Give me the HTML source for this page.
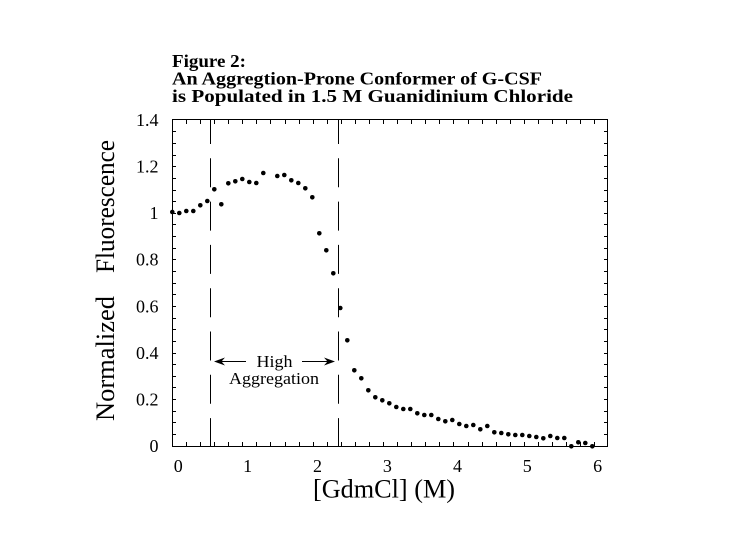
<!DOCTYPE html>
<html>
<head>
<meta charset="utf-8">
<style>
  html, body { margin: 0; padding: 0; background: #fff; }
  svg { display: block; }
  text { font-family: "Liberation Serif", "DejaVu Serif", serif; fill: #000; }
</style>
</head>
<body>
<svg width="730" height="552" viewBox="0 0 730 552" xmlns="http://www.w3.org/2000/svg">
  <rect x="0" y="0" width="730" height="552" fill="#fff"/>

  <text x="172" y="67" font-size="18" font-weight="bold" textLength="74" lengthAdjust="spacingAndGlyphs">Figure 2:</text>
  <text x="172" y="84.5" font-size="18" font-weight="bold" textLength="370" lengthAdjust="spacingAndGlyphs">An Aggregtion-Prone Conformer of G-CSF</text>
  <text x="172" y="102" font-size="18" font-weight="bold" textLength="401" lengthAdjust="spacingAndGlyphs">is Populated in 1.5 M Guanidinium Chloride</text>

  <rect x="172.5" y="119.5" width="435" height="327" fill="none" stroke="#000" stroke-width="1"/>

  <line x1="210.5" y1="120" x2="210.5" y2="446" stroke="#000" stroke-width="1" stroke-dasharray="29 14.3" stroke-dashoffset="5"/>
  <line x1="338.5" y1="120" x2="338.5" y2="446" stroke="#000" stroke-width="1" stroke-dasharray="29 14.3" stroke-dashoffset="5"/>

  <g font-size="18" text-anchor="end">
    <text x="158.5" y="126">1.4</text>
    <text x="158.5" y="172.6">1.2</text>
    <text x="158.5" y="219.1">1</text>
    <text x="158.5" y="265.7">0.8</text>
    <text x="158.5" y="312.3">0.6</text>
    <text x="158.5" y="358.9">0.4</text>
    <text x="158.5" y="405.4">0.2</text>
    <text x="158.5" y="452">0</text>
  </g>

  <g font-size="18" text-anchor="middle">
    <text x="178.3" y="472">0</text>
    <text x="247.6" y="472">1</text>
    <text x="317.5" y="472">2</text>
    <text x="387.4" y="472">3</text>
    <text x="457.5" y="472">4</text>
    <text x="527.2" y="472">5</text>
    <text x="597.6" y="472">6</text>
  </g>

  <text x="313" y="497.5" font-size="26" textLength="142" lengthAdjust="spacingAndGlyphs">[GdmCl] (M)</text>
  <text x="114" y="421" font-size="26" transform="rotate(-90 114 421)" textLength="125" lengthAdjust="spacingAndGlyphs">Normalized</text>
  <text x="114" y="273" font-size="26" transform="rotate(-90 114 273)" textLength="133" lengthAdjust="spacingAndGlyphs">Fluorescence</text>

  <text x="274.5" y="367" font-size="17" text-anchor="middle" textLength="36" lengthAdjust="spacingAndGlyphs">High</text>
  <text x="274" y="384" font-size="17" text-anchor="middle" textLength="90" lengthAdjust="spacingAndGlyphs">Aggregation</text>
  <line x1="218" y1="361.5" x2="246" y2="361.5" stroke="#000" stroke-width="1"/>
  <path d="M214,361.5 L225,357.5 L221.5,361.5 L225,365.5 Z" fill="#000"/>
  <line x1="302" y1="361.5" x2="331" y2="361.5" stroke="#000" stroke-width="1"/>
  <path d="M335,361.5 L324,357.5 L327.5,361.5 L324,365.5 Z" fill="#000"/>

  <g fill="#000">
    <circle cx="172.3" cy="212" r="2.3"/>
    <circle cx="179.3" cy="213" r="2.3"/>
    <circle cx="186.3" cy="211" r="2.3"/>
    <circle cx="193.3" cy="211" r="2.3"/>
    <circle cx="200.3" cy="205.3" r="2.3"/>
    <circle cx="207.3" cy="201" r="2.3"/>
    <circle cx="214.3" cy="189.3" r="2.3"/>
    <circle cx="221.3" cy="204.3" r="2.3"/>
    <circle cx="228.3" cy="183.3" r="2.3"/>
    <circle cx="235.3" cy="181.3" r="2.3"/>
    <circle cx="242.3" cy="179" r="2.3"/>
    <circle cx="249.3" cy="182" r="2.3"/>
    <circle cx="256.3" cy="183" r="2.3"/>
    <circle cx="263.3" cy="173" r="2.3"/>
    <circle cx="277.3" cy="176" r="2.3"/>
    <circle cx="284.3" cy="175" r="2.3"/>
    <circle cx="291.3" cy="180.3" r="2.3"/>
    <circle cx="298.3" cy="183" r="2.3"/>
    <circle cx="305.3" cy="188.3" r="2.3"/>
    <circle cx="312.3" cy="197.3" r="2.3"/>
    <circle cx="319.3" cy="233.3" r="2.3"/>
    <circle cx="326.3" cy="250.3" r="2.3"/>
    <circle cx="333.3" cy="273.3" r="2.3"/>
    <circle cx="340.3" cy="308" r="2.3"/>
    <circle cx="347.3" cy="340.3" r="2.3"/>
    <circle cx="354.3" cy="370.3" r="2.3"/>
    <circle cx="361.3" cy="378.3" r="2.3"/>
    <circle cx="368.3" cy="390.3" r="2.3"/>
    <circle cx="375.3" cy="397.3" r="2.3"/>
    <circle cx="382.3" cy="400.3" r="2.3"/>
    <circle cx="389.3" cy="403.3" r="2.3"/>
    <circle cx="396.3" cy="407" r="2.3"/>
    <circle cx="403.3" cy="409" r="2.3"/>
    <circle cx="410.3" cy="409" r="2.3"/>
    <circle cx="417.3" cy="413.3" r="2.3"/>
    <circle cx="424.3" cy="415" r="2.3"/>
    <circle cx="431.3" cy="415" r="2.3"/>
    <circle cx="438.3" cy="419" r="2.3"/>
    <circle cx="445.3" cy="421.3" r="2.3"/>
    <circle cx="452.3" cy="420" r="2.3"/>
    <circle cx="459.3" cy="424" r="2.3"/>
    <circle cx="466.3" cy="426" r="2.3"/>
    <circle cx="473.3" cy="425" r="2.3"/>
    <circle cx="480.3" cy="429.3" r="2.3"/>
    <circle cx="487.3" cy="426" r="2.3"/>
    <circle cx="494.3" cy="432.3" r="2.3"/>
    <circle cx="501.3" cy="433" r="2.3"/>
    <circle cx="508.3" cy="434.3" r="2.3"/>
    <circle cx="515.3" cy="435" r="2.3"/>
    <circle cx="522.3" cy="435" r="2.3"/>
    <circle cx="529.3" cy="436" r="2.3"/>
    <circle cx="536.3" cy="437" r="2.3"/>
    <circle cx="543.3" cy="438.3" r="2.3"/>
    <circle cx="550.3" cy="436" r="2.3"/>
    <circle cx="557.3" cy="438" r="2.3"/>
    <circle cx="564.3" cy="438" r="2.3"/>
    <circle cx="571.3" cy="446.3" r="2.3"/>
    <circle cx="578.3" cy="442.3" r="2.3"/>
    <circle cx="585.3" cy="443" r="2.3"/>
    <circle cx="592.3" cy="446.3" r="2.3"/>
  </g>

  <g stroke="#000" stroke-width="1" fill="none">
    <path d="M186.5,120 v4 M200.5,120 v4 M214.5,120 v4 M228.5,120 v4 M242.5,120 v4 M256.5,120 v4 M270.5,120 v4 M285.5,120 v4 M299.5,120 v4 M313.5,120 v4 M327.5,120 v4 M341.5,120 v4 M355.5,120 v4 M369.5,120 v4 M383.5,120 v4 M397.5,120 v4 M411.5,120 v4 M425.5,120 v4 M439.5,120 v4 M453.5,120 v4 M468.5,120 v4 M482.5,120 v4 M496.5,120 v4 M510.5,120 v4 M524.5,120 v4 M538.5,120 v4 M552.5,120 v4 M566.5,120 v4 M580.5,120 v4 M594.5,120 v4"/>
    <path d="M186.5,446 v-4 M200.5,446 v-4 M214.5,446 v-4 M228.5,446 v-4 M242.5,446 v-4 M256.5,446 v-4 M270.5,446 v-4 M285.5,446 v-4 M299.5,446 v-4 M313.5,446 v-4 M327.5,446 v-4 M341.5,446 v-4 M355.5,446 v-4 M369.5,446 v-4 M383.5,446 v-4 M397.5,446 v-4 M411.5,446 v-4 M425.5,446 v-4 M439.5,446 v-4 M453.5,446 v-4 M468.5,446 v-4 M482.5,446 v-4 M496.5,446 v-4 M510.5,446 v-4 M524.5,446 v-4 M538.5,446 v-4 M552.5,446 v-4 M566.5,446 v-4 M580.5,446 v-4 M594.5,446 v-4"/>
    <path d="M172,131.5 h4 M172,143.5 h4 M172,155.5 h4 M172,166.5 h4 M172,178.5 h4 M172,190.5 h4 M172,201.5 h4 M172,213.5 h4 M172,224.5 h4 M172,236.5 h4 M172,248.5 h4 M172,259.5 h4 M172,271.5 h4 M172,283.5 h4 M172,294.5 h4 M172,306.5 h4 M172,318.5 h4 M172,329.5 h4 M172,341.5 h4 M172,353.5 h4 M172,364.5 h4 M172,376.5 h4 M172,387.5 h4 M172,399.5 h4 M172,411.5 h4 M172,422.5 h4 M172,434.5 h4"/>
    <path d="M608,131.5 h-4 M608,143.5 h-4 M608,155.5 h-4 M608,166.5 h-4 M608,178.5 h-4 M608,190.5 h-4 M608,201.5 h-4 M608,213.5 h-4 M608,224.5 h-4 M608,236.5 h-4 M608,248.5 h-4 M608,259.5 h-4 M608,271.5 h-4 M608,283.5 h-4 M608,294.5 h-4 M608,306.5 h-4 M608,318.5 h-4 M608,329.5 h-4 M608,341.5 h-4 M608,353.5 h-4 M608,364.5 h-4 M608,376.5 h-4 M608,387.5 h-4 M608,399.5 h-4 M608,411.5 h-4 M608,422.5 h-4 M608,434.5 h-4"/>
  </g>
</svg>
</body>
</html>
